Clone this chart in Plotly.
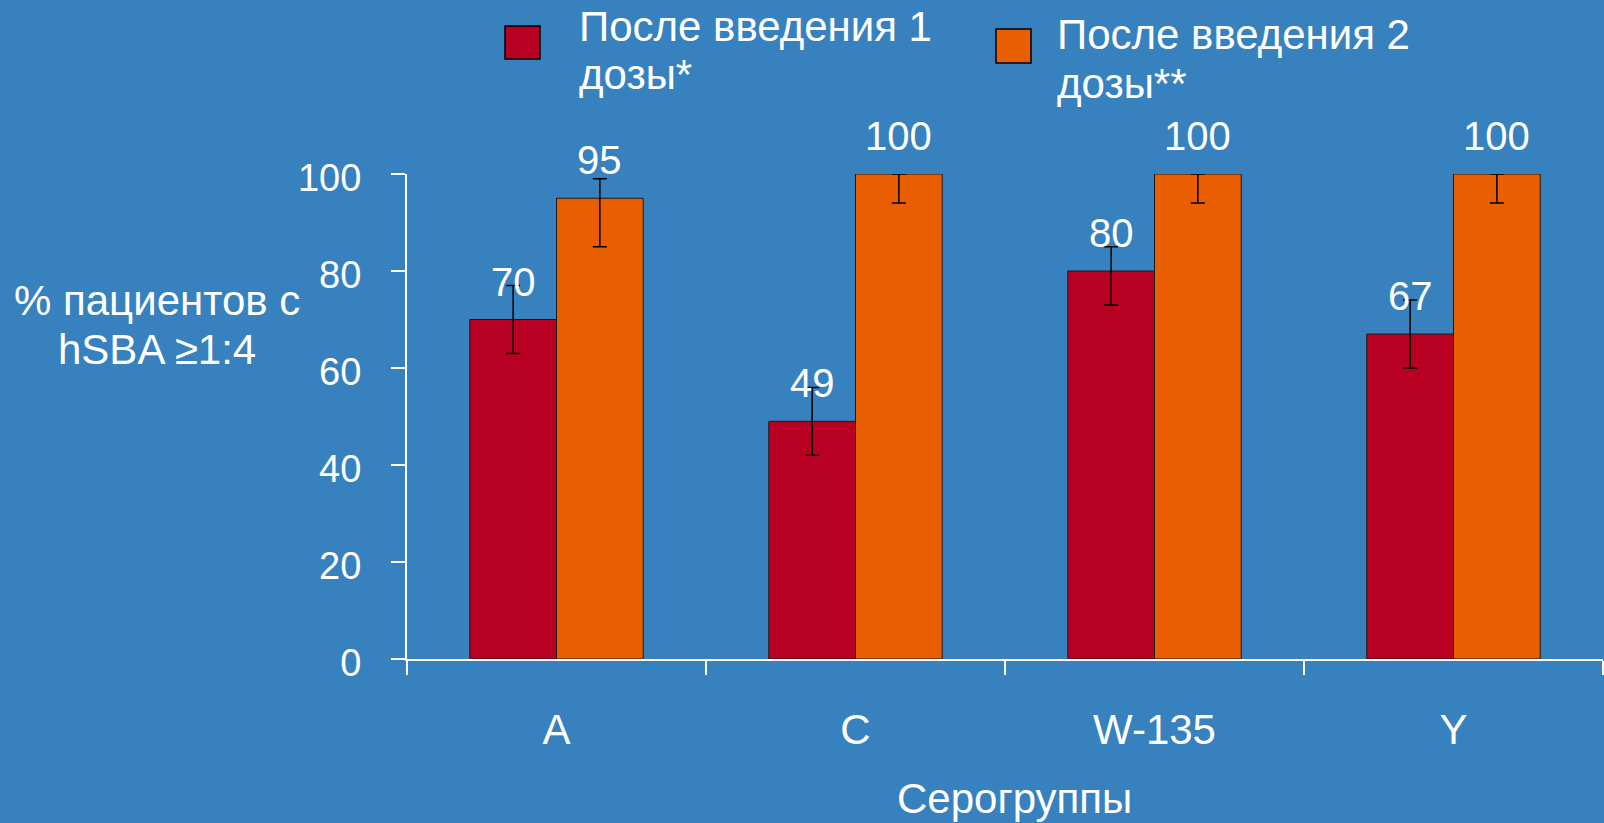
import plotly.graph_objects as go

# ---- data ----
categories = ["A", "C", "W-135", "Y"]
dose1_values = [70, 49, 80, 67]
dose1_err_plus = [7, 7, 5, 7]
dose1_err_minus = [7, 7, 7, 7]
dose2_values = [95, 100, 100, 100]
dose2_err_plus = [4, 0, 0, 0]
dose2_err_minus = [10, 6, 6, 6]
series_names = ["После введения 1<br>дозы*", "После введения 2<br>дозы**"]
y_ticks = [0, 20, 40, 60, 80, 100]
y_title_lines = ["% пациентов с", "hSBA ≥1:4"]
x_title = "Серогруппы"

# ---- style ----
W, H = 1604, 823
L, R, T, B = 407, 1, 174, 164
BG = "#3881BF"
RED = "#B80023"
ORANGE = "#E85E00"
FONT = "Liberation Sans, Arial, sans-serif"
PW = W - L - R
PH = H - T - B


def px_x(px):
    return (px - L) / PW


def px_y(py):
    return (H - B - py) / PH


fig = go.Figure()
fig.add_trace(go.Bar(
    x=categories, y=dose1_values, name="dose1",
    marker=dict(color=RED, line=dict(color="#1a1a1a", width=1)),
    error_y=dict(type="data", symmetric=False, array=dose1_err_plus,
                 arrayminus=dose1_err_minus, color="black", thickness=1.5, width=7),
    cliponaxis=False, showlegend=False,
))
fig.add_trace(go.Bar(
    x=categories, y=dose2_values, name="dose2",
    marker=dict(color=ORANGE, line=dict(color="#1a1a1a", width=1)),
    error_y=dict(type="data", symmetric=False, array=dose2_err_plus,
                 arrayminus=dose2_err_minus, color="black", thickness=1.5, width=7),
    cliponaxis=False, showlegend=False,
))

annotations = []
# value labels
for vals, shift in ((dose1_values, -43), (dose2_values, 43)):
    for c, v in zip(categories, vals):
        annotations.append(dict(
            x=c, y=v, xref="x", yref="y", text=str(v), showarrow=False,
            xshift=shift, yshift=14, yanchor="bottom", xanchor="center",
            font=dict(family=FONT, size=40, color="white"),
        ))

# y title (two lines)
for line, cy in zip(y_title_lines, (300, 349)):
    annotations.append(dict(
        x=px_x(157), y=px_y(cy), xref="paper", yref="paper", text=line,
        showarrow=False, xanchor="center", yanchor="middle",
        font=dict(family=FONT, size=42, color="white"),
    ))

# x title
annotations.append(dict(
    x=px_x(1014), y=px_y(799), xref="paper", yref="paper", text=x_title,
    showarrow=False, xanchor="center", yanchor="middle",
    font=dict(family=FONT, size=42, color="white"),
))

# manual legend
legend_items = [
    (RED, (505, 26, 540, 59), 577, (27, 74)),
    (ORANGE, (996, 29, 1031, 63), 1055, (35, 83)),
]
shapes = []
for name, (col, (x0, y0, x1, y1), tx, (ly1, ly2)) in zip(series_names, legend_items):
    shapes.append(dict(type="rect", xref="paper", yref="paper",
                       x0=px_x(x0), x1=px_x(x1), y0=px_y(y1), y1=px_y(y0),
                       fillcolor=col, line=dict(color="black", width=1.5)))
    for txt, cy in zip(name.split("<br>"), (ly1, ly2)):
        annotations.append(dict(
            x=px_x(tx), y=px_y(cy), xref="paper", yref="paper", text=txt,
            showarrow=False, xanchor="left", yanchor="middle",
            font=dict(family=FONT, size=42, color="white"),
        ))

fig.update_layout(
    width=W, height=H,
    margin=dict(l=L, r=R, t=T, b=B, pad=0),
    paper_bgcolor=BG, plot_bgcolor=BG,
    barmode="group", bargap=0.42, bargroupgap=0,
    font=dict(family=FONT, color="white"),
    annotations=annotations, shapes=shapes,
    xaxis=dict(
        showgrid=False, zeroline=False, showline=True, linecolor="white", linewidth=2,
        ticks="outside", tickson="boundaries", ticklen=14, tickcolor="white", tickwidth=2,
        tickfont=dict(family=FONT, size=42, color="white"), ticklabelstandoff=33,
        fixedrange=True,
    ),
    yaxis=dict(
        range=[0, 100], tickvals=y_ticks, showgrid=False, zeroline=False,
        showline=True, linecolor="white", linewidth=2,
        ticks="outside", ticklen=14, tickcolor="white", tickwidth=2,
        tickfont=dict(family=FONT, size=38, color="white"), ticklabelstandoff=22,
        ticklabelshift=4,
        fixedrange=True,
    ),
)

fig.write_html(
    "out.html",
    config={"displayModeBar": False},
    post_script="document.body.style.margin='0';document.body.style.background='" + BG + "';",
)
